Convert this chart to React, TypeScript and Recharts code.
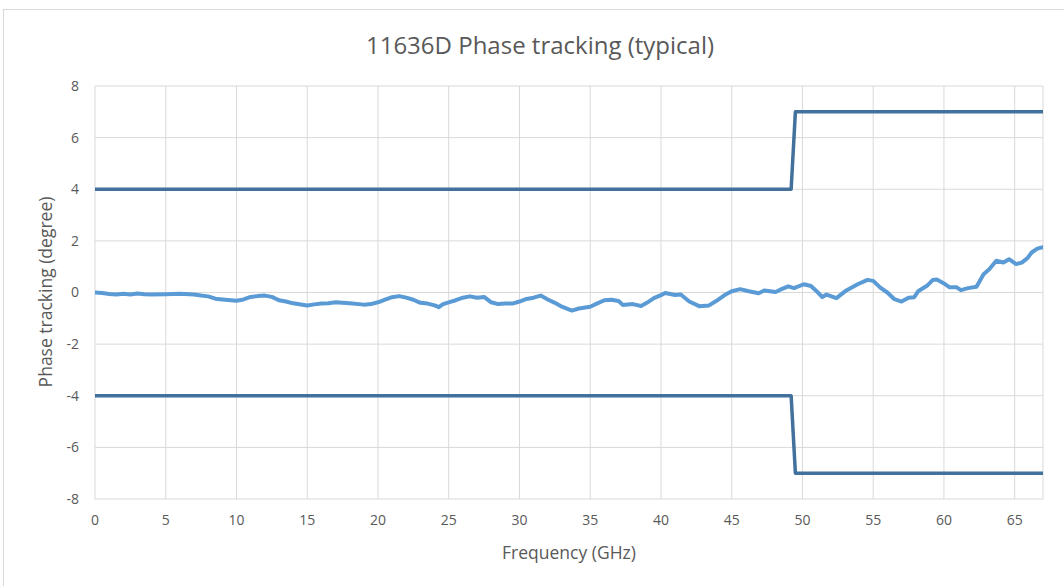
import React from "react"
import { LineChart, Line, XAxis, YAxis, CartesianGrid } from "recharts"

// measured phase tracking curve (GHz, degree)
const freqGHz = [
  0, 0.5, 1, 1.5, 2, 2.5, 3, 3.5, 4, 5, 6, 7, 7.5, 8, 8.5, 9, 10, 10.5, 11, 11.5,
  12, 12.5, 13, 13.5, 14, 15, 15.5, 16, 16.5, 17, 17.5, 18, 19, 19.5, 20, 20.5, 21, 21.5,
  22, 22.5, 23, 23.5, 24, 24.3, 24.6, 25, 25.5, 26, 26.5, 27, 27.5, 28, 28.5, 29, 29.5,
  30, 30.5, 31, 31.5, 32, 32.5, 33, 33.7, 34.2, 35, 35.5, 36, 36.5, 37, 37.3, 38, 38.6,
  39, 39.5, 40, 40.3, 41, 41.4, 42, 42.7, 43.4, 43.9, 44.5, 45, 45.6, 46.2, 46.9, 47.3,
  47.7, 48.1, 48.6, 49, 49.4, 50.1, 50.6, 51, 51.4, 51.7, 52.4, 53.1, 53.9, 54.6, 55,
  55.5, 56, 56.5, 57, 57.5, 57.9, 58.2, 58.8, 59.2, 59.5, 60, 60.4, 60.9, 61.2, 61.7,
  62.3, 62.8, 63.2, 63.7, 64.2, 64.6, 65.1, 65.5, 65.9, 66.2, 66.6, 67,
]
const phaseDeg = [
  0, -0.02, -0.06, -0.08, -0.05, -0.08, -0.04, -0.07, -0.08, -0.07, -0.05, -0.08, -0.12, -0.15, -0.24, -0.27, -0.32, -0.27, -0.17, -0.14,
  -0.12, -0.17, -0.3, -0.35, -0.42, -0.5, -0.46, -0.43, -0.42, -0.38, -0.4, -0.42, -0.47, -0.45, -0.38, -0.28, -0.18, -0.14,
  -0.2, -0.28, -0.4, -0.43, -0.5, -0.57, -0.45, -0.38, -0.3, -0.2, -0.15, -0.2, -0.17, -0.38, -0.45, -0.43, -0.43,
  -0.35, -0.25, -0.2, -0.12, -0.27, -0.4, -0.55, -0.7, -0.62, -0.55, -0.42, -0.3, -0.28, -0.33, -0.48, -0.45, -0.52,
  -0.4, -0.22, -0.1, -0.02, -0.1, -0.08, -0.35, -0.53, -0.5, -0.33, -0.1, 0.05, 0.13, 0.05, -0.03, 0.08,
  0.05, 0.02, 0.15, 0.24, 0.17, 0.32, 0.25, 0.05, -0.18, -0.08, -0.22, 0.08, 0.32, 0.49, 0.45,
  0.19, 0, -0.26, -0.35, -0.2, -0.18, 0.06, 0.26, 0.48, 0.5, 0.35, 0.2, 0.2, 0.09, 0.17,
  0.22, 0.71, 0.9, 1.23, 1.16, 1.29, 1.1, 1.16, 1.33, 1.55, 1.7, 1.76,
]

// spec limits
const limitFreq = [0, 49.2, 49.5, 67]
const upperLimit = [4, 4, 7, 7]
const lowerLimit = [-4, -4, -7, -7]

const xTicks = [0, 5, 10, 15, 20, 25, 30, 35, 40, 45, 50, 55, 60, 65]
const yTicks = [-8, -6, -4, -2, 0, 2, 4, 6, 8]

const curveData = freqGHz.map((f, i) => ({ f, v: phaseDeg[i] }))
const upperData = limitFreq.map((f, i) => ({ f, v: upperLimit[i] }))
const lowerData = limitFreq.map((f, i) => ({ f, v: lowerLimit[i] }))

const FONT = "'Open Sans', sans-serif"
const TEXT = "#595959"
const GRID = "#d9d9d9"

const tickStyle = { fill: TEXT, fontSize: 14, fontFamily: FONT }

export default function App() {
  return (
    <div
      style={{
        position: "absolute",
        left: 0,
        top: 0,
        width: 1064,
        height: 586,
        overflow: "hidden",
        background: "#fff",
        fontFamily: FONT,
      }}
    >
      <div
        style={{
          position: "absolute",
          left: 3,
          top: 9,
          width: 1080,
          height: 600,
          border: `1px solid ${GRID}`,
        }}
      />
      <div
        style={{
          position: "absolute",
          left: 0,
          width: 1080,
          top: 29,
          textAlign: "center",
          fontSize: 24,
          lineHeight: "32px",
          color: TEXT,
        }}
      >
        11636D Phase tracking (typical)
      </div>
      <div
        style={{
          position: "absolute",
          left: 469,
          width: 200,
          top: 539,
          textAlign: "center",
          fontSize: 17.5,
          lineHeight: "26px",
          color: TEXT,
        }}
      >
        Frequency (GHz)
      </div>
      <div
        style={{
          position: "absolute",
          left: 45 - 120,
          width: 240,
          top: 292 - 13,
          textAlign: "center",
          fontSize: 17.5,
          lineHeight: "26px",
          color: TEXT,
          transform: "rotate(-90deg)",
        }}
      >
        Phase tracking (degree)
      </div>
      <div style={{ position: "absolute", left: 0, top: 0 }}>
        <LineChart width={1064} height={586} margin={{ top: 86, right: 21, bottom: 57, left: 0 }}>
          <CartesianGrid stroke={GRID} strokeWidth={1} />
          <XAxis
            type="number"
            dataKey="f"
            domain={[0, 67]}
            ticks={xTicks}
            allowDataOverflow
            axisLine={false}
            tickLine={false}
            tickSize={0}
            tickMargin={16}
            height={30}
            tick={tickStyle}
            interval={0}
          />
          <YAxis
            type="number"
            dataKey="v"
            domain={[-8, 8]}
            ticks={yTicks}
            axisLine={false}
            tickLine={false}
            tickSize={0}
            tickMargin={16}
            width={95}
            tick={tickStyle}
            interval={0}
          />
          <Line
            data={upperData}
            dataKey="v"
            type="linear"
            stroke="#41719c"
            strokeWidth={3.5}
            dot={false}
            strokeLinejoin="round"
            isAnimationActive={false}
          />
          <Line
            data={lowerData}
            dataKey="v"
            type="linear"
            stroke="#41719c"
            strokeWidth={3.5}
            dot={false}
            strokeLinejoin="round"
            isAnimationActive={false}
          />
          <Line
            data={curveData}
            dataKey="v"
            type="linear"
            stroke="#5b9bd5"
            strokeWidth={4}
            dot={false}
            strokeLinejoin="round"
            strokeLinecap="round"
            isAnimationActive={false}
          />
        </LineChart>
      </div>
    </div>
  )
}
